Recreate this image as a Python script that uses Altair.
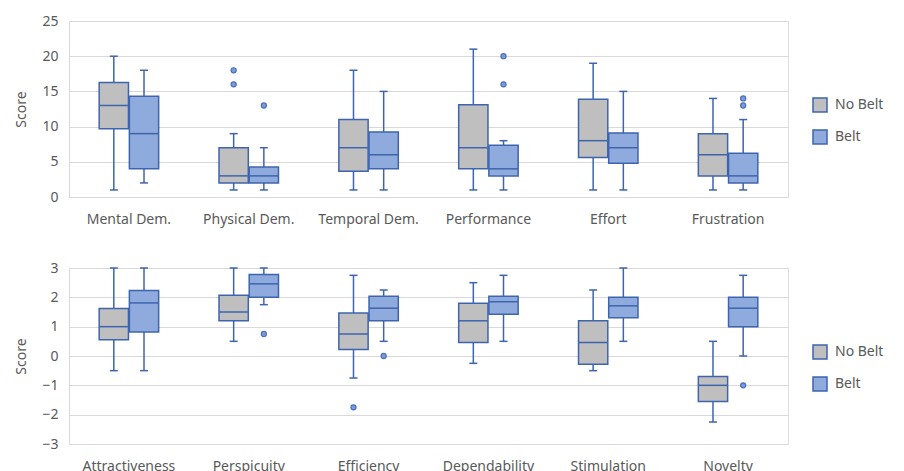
import altair as alt
import pandas as pd

GROUPS = ["No Belt", "Belt"]

# ---- top panel (NASA-TLX) ----
top_cats = ["Mental Dem.", "Physical Dem.", "Temporal Dem.", "Performance", "Effort", "Frustration"]
top_nb_min = [1, 1, 1, 1, 1, 1]
top_nb_q1 = [9.7, 2, 3.65, 4, 5.6, 3]
top_nb_med = [13, 3, 7, 7, 8, 6]
top_nb_q3 = [16.25, 7, 11, 13.1, 13.9, 9]
top_nb_max = [20, 9, 18, 21, 19, 14]
top_b_min = [2, 1, 1, 1, 1, 1]
top_b_q1 = [4, 2, 4, 3, 4.8, 2]
top_b_med = [9, 3, 6, 4, 7, 3]
top_b_q3 = [14.3, 4.25, 9.25, 7.35, 9.1, 6.2]
top_b_max = [18, 7, 15, 8, 15, 11]
top_out_cat = ["Physical Dem.", "Physical Dem.", "Physical Dem.", "Performance", "Performance", "Frustration", "Frustration"]
top_out_grp = ["No Belt", "No Belt", "Belt", "Belt", "Belt", "Belt", "Belt"]
top_out_val = [18, 16, 13, 20, 16, 14, 13]

# ---- bottom panel (UEQ) ----
bot_cats = ["Attractiveness", "Perspicuity", "Efficiency", "Dependability", "Stimulation", "Novelty"]
bot_nb_min = [-0.5, 0.5, -0.75, -0.25, -0.5, -2.25]
bot_nb_q1 = [0.55, 1.2, 0.22, 0.46, -0.28, -1.55]
bot_nb_med = [1.0, 1.5, 0.75, 1.2, 0.46, -1.0]
bot_nb_q3 = [1.62, 2.07, 1.47, 1.8, 1.2, -0.7]
bot_nb_max = [3, 3, 2.75, 2.5, 2.25, 0.5]
bot_b_min = [-0.5, 1.75, 0.5, 0.5, 0.5, 0]
bot_b_q1 = [0.82, 2.0, 1.2, 1.42, 1.3, 1.0]
bot_b_med = [1.81, 2.46, 1.63, 1.85, 1.71, 1.63]
bot_b_q3 = [2.23, 2.78, 2.04, 2.04, 2.0, 2.0]
bot_b_max = [3, 3, 2.25, 2.75, 3, 2.75]
bot_out_cat = ["Perspicuity", "Efficiency", "Efficiency", "Novelty"]
bot_out_grp = ["Belt", "No Belt", "Belt", "Belt"]
bot_out_val = [0.75, -1.75, 0, -1]

STROKE = "#3e64ad"
GRID = "#d9d9d9"
TXT = "#595959"
FILLS = ["#bfbfbf", "#8faadc"]
FONT = "Noto Sans"


def build(cats, nb, b):
    rows = []
    for grp, stats in (("No Belt", nb), ("Belt", b)):
        mn, q1, md, q3, mx = stats
        for i, c in enumerate(cats):
            rows.append(dict(cat=c, group=grp, lo=mn[i], q1=q1[i], med=md[i], q3=q3[i], hi=mx[i]))
    return pd.DataFrame(rows)


def panel(df, out, cats, ymin, ymax, step, width):
    x = alt.X("cat:N", sort=cats, title=None,
              scale=alt.Scale(paddingInner=0, paddingOuter=0),
              axis=alt.Axis(labelAngle=0, ticks=False, domain=False, labelPadding=15,
                            labelFontSize=14, labelColor=TXT, grid=False, labelFont=FONT))
    xo = alt.XOffset("group:N", sort=GROUPS,
                     scale=alt.Scale(domain=GROUPS, paddingInner=0.03, paddingOuter=1))
    yscale = alt.Scale(domain=[ymin, ymax], nice=False)
    yaxis = alt.Axis(values=list(range(ymin, ymax + 1, step)), grid=True, gridColor=GRID,
                     domain=True, domainColor=GRID, ticks=False, labelPadding=11,
                     titlePadding=14, minExtent=27, maxExtent=27, labelFontSize=14,
                     labelColor=TXT, titleFontSize=14, titleColor=TXT, titleFontWeight="normal",
                     labelFont=FONT, titleFont=FONT)

    def Y(f):
        return alt.Y(f, scale=yscale, axis=yaxis, title="Score")

    base = alt.Chart(df)
    whisk = base.mark_rule(color=STROKE, strokeWidth=1.5).encode(x=x, xOffset=xo, y=Y("lo:Q"), y2="hi:Q")
    box = base.mark_bar(stroke=STROKE, strokeWidth=1.5).encode(
        x=x, xOffset=xo, y=Y("q1:Q"), y2="q3:Q",
        fill=alt.Fill("group:N", sort=GROUPS,
                      scale=alt.Scale(domain=GROUPS, range=FILLS),
                      legend=alt.Legend(title=None, orient="none", legendX=743, legendY=76,
                                        symbolType="square", symbolSize=196,
                                        symbolStrokeColor=STROKE, symbolStrokeWidth=1.5,
                                        labelFontSize=14, labelColor=TXT, labelFont=FONT,
                                        rowPadding=12, labelOffset=7, padding=0)))
    med = base.mark_tick(color=STROKE, thickness=1.5, size=29, opacity=1).encode(x=x, xOffset=xo, y=Y("med:Q"))
    caplo = base.mark_tick(color=STROKE, thickness=1.5, size=8, opacity=1).encode(x=x, xOffset=xo, y=Y("lo:Q"))
    caphi = base.mark_tick(color=STROKE, thickness=1.5, size=8, opacity=1).encode(x=x, xOffset=xo, y=Y("hi:Q"))
    pts = alt.Chart(out).mark_point(filled=True, fill="#7d9bd6", stroke="#4a6fbd", strokeWidth=1.2,
                                    size=26, opacity=1).encode(x=x, xOffset=xo, y=Y("v:Q"))
    return alt.layer(whisk, box, med, caplo, caphi, pts).properties(width=width, height=176)


top_df = build(top_cats, (top_nb_min, top_nb_q1, top_nb_med, top_nb_q3, top_nb_max),
               (top_b_min, top_b_q1, top_b_med, top_b_q3, top_b_max))
top_out = pd.DataFrame(dict(cat=top_out_cat, group=top_out_grp, v=top_out_val))
bot_df = build(bot_cats, (bot_nb_min, bot_nb_q1, bot_nb_med, bot_nb_q3, bot_nb_max),
               (bot_b_min, bot_b_q1, bot_b_med, bot_b_q3, bot_b_max))
bot_out = pd.DataFrame(dict(cat=bot_out_cat, group=bot_out_grp, v=bot_out_val))

top = panel(top_df, top_out, top_cats, 0, 25, 5, 719)
bottom = panel(bot_df, bot_out, bot_cats, -3, 3, 1, 719)

chart = alt.vconcat(top, bottom, spacing=33).resolve_scale(
    x="independent", y="independent", fill="independent"
).resolve_legend(fill="independent").properties(
    padding={"left": 5, "top": 5, "right": 5, "bottom": 0}
).configure_view(stroke=None).configure(font=FONT)

chart.save("out.html", embed_options={"renderer": "svg", "actions": False})
